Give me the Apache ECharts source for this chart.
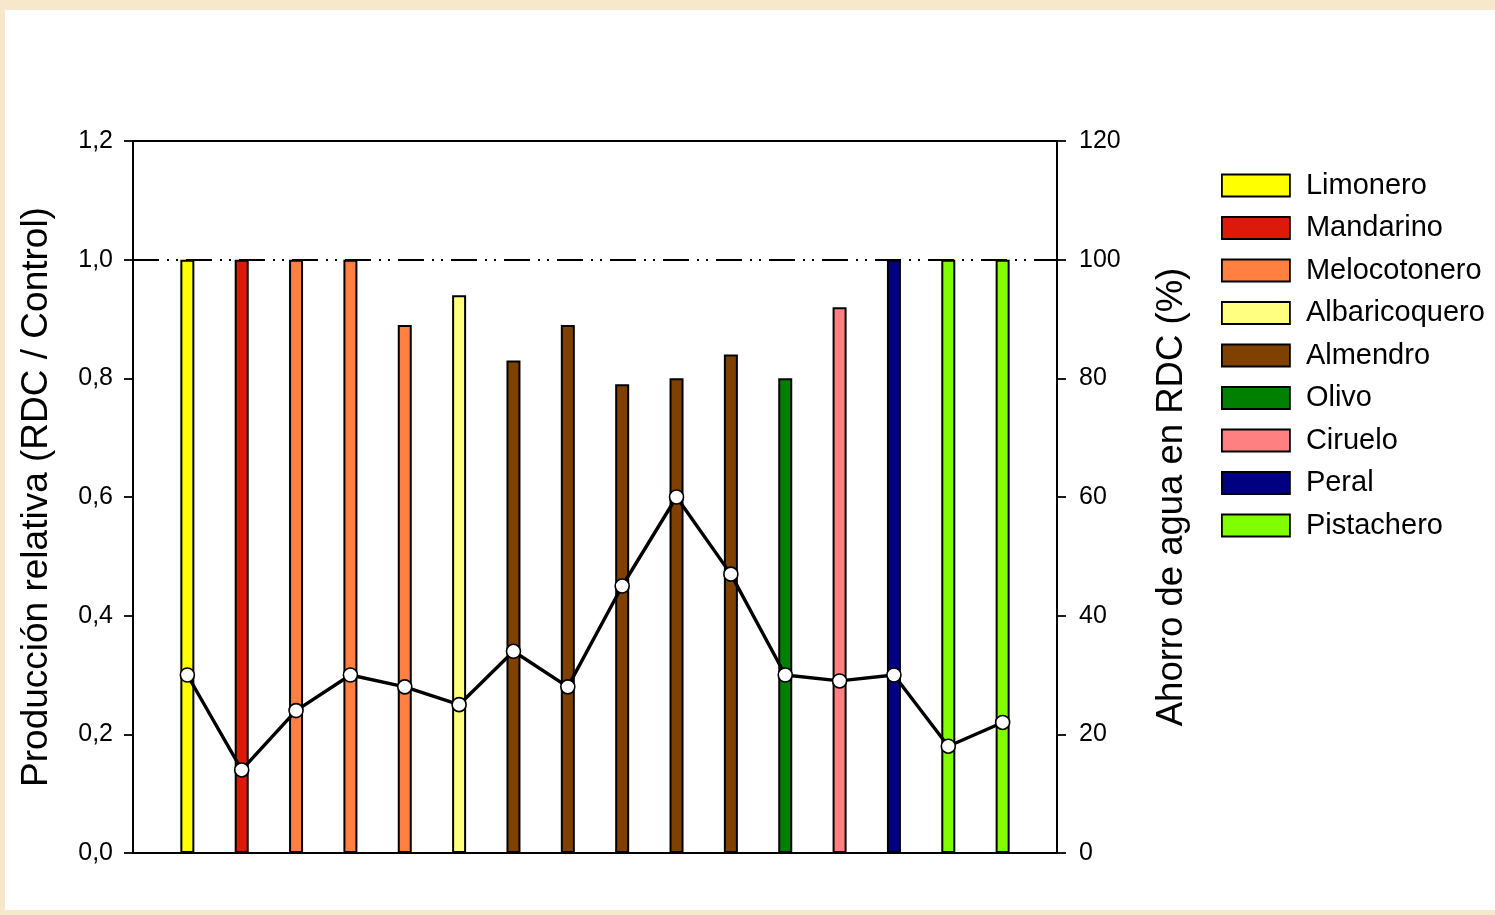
<!DOCTYPE html>
<html>
<head>
<meta charset="utf-8">
<script src="https://cdn.jsdelivr.net/npm/echarts@6/dist/echarts.min.js"></script>
<style>
  html, body { margin: 0; padding: 0; width: 1495px; height: 915px; background: #F7E8CB; overflow: hidden; }
  #chart { position: absolute; left: 5px; top: 10px; width: 1490px; height: 900px; background: #ffffff; }
</style>
</head>
<body>
<div id="chart"></div>
<script>
// ---- data ----
const species = ['Limonero', 'Mandarino', 'Melocotonero', 'Albaricoquero', 'Almendro', 'Olivo', 'Ciruelo', 'Peral', 'Pistachero'];
const speciesColors = ['#FFFF00', '#DD1A0A', '#FF8040', '#FFFF80', '#804000', '#008000', '#FF8080', '#000080', '#80FF00'];
const trialSpecies = ['Limonero', 'Mandarino', 'Melocotonero', 'Melocotonero', 'Melocotonero', 'Albaricoquero',
  'Almendro', 'Almendro', 'Almendro', 'Almendro', 'Almendro', 'Olivo', 'Ciruelo', 'Peral', 'Pistachero', 'Pistachero'];
const relativeProduction = [1.0, 1.0, 1.0, 1.0, 0.89, 0.94, 0.83, 0.89, 0.79, 0.80, 0.84, 0.80, 0.92, 1.0, 1.0, 1.0];
const waterSaving = [30, 14, 24, 30, 28, 25, 34, 28, 45, 60, 47, 30, 29, 30, 18, 22];
const leftTicks = [0, 0.2, 0.4, 0.6, 0.8, 1.0, 1.2];
const rightTicks = [0, 20, 40, 60, 80, 100, 120];
const controlLevel = 1.0;

const FONT = 'Liberation Sans, Arial, Helvetica, sans-serif';

const barSeries = species.map((name, si) => {
  const data = [];
  trialSpecies.forEach((s, i) => { if (s === name) data.push([i + 1, relativeProduction[i]]); });
  const ser = {
    name: name,
    type: 'bar',
    xAxisIndex: 0,
    yAxisIndex: 0,
    barWidth: 14,
    barGap: '-100%',
    data: data,
    itemStyle: { color: speciesColors[si], borderColor: '#000', borderWidth: 2 },
    z: 2
  };
  if (si === 0) {
    ser.markLine = {
      silent: true,
      symbol: ['none', 'none'],
      label: { show: false },
      lineStyle: { color: '#000', width: 1.8, type: [26, 8, 2, 7, 2, 8] },
      data: [{ yAxis: controlLevel }],
      z: 5
    };
  }
  return ser;
});

const lineSeries = {
  name: 'Ahorro',
  type: 'line',
  xAxisIndex: 0,
  yAxisIndex: 1,
  data: waterSaving.map((v, i) => [i + 1, v]),
  symbol: 'circle',
  symbolSize: 14,
  itemStyle: { color: '#ffffff', borderColor: '#000', borderWidth: 1.6 },
  lineStyle: { color: '#000', width: 3.4 },
  z: 10
};

const chart = echarts.init(document.getElementById('chart'));
chart.setOption({
  animation: false,
  backgroundColor: '#ffffff',
  textStyle: { fontFamily: FONT, color: '#000' },
  grid: { left: 128, right: 438, top: 131, bottom: 57, show: true, borderColor: '#000', borderWidth: 1.8, backgroundColor: 'transparent' },
  legend: {
    data: species,
    orient: 'vertical',
    left: 1211,
    top: 156,
    icon: 'rect',
    itemWidth: 68,
    itemHeight: 22,
    itemGap: 13.5,
    itemStyle: { borderColor: '#000', borderWidth: 1.8 },
    textStyle: { fontFamily: FONT, fontSize: 29, color: '#000', padding: [0, 0, 0, 11] },
    selectedMode: false
  },
  xAxis: [{
    type: 'value',
    min: 0,
    max: trialSpecies.length + 1,
    axisLine: { show: true, lineStyle: { color: '#000', width: 1.8 } },
    axisTick: { show: false },
    axisLabel: { show: false },
    splitLine: { show: false }
  }],
  yAxis: [{
    type: 'value',
    position: 'left',
    min: leftTicks[0],
    max: leftTicks[leftTicks.length - 1],
    interval: 0.2,
    name: 'Producción relativa (RDC / Control)',
    nameLocation: 'middle',
    nameRotate: 90,
    nameGap: 78,
    nameTextStyle: { fontFamily: FONT, fontSize: 37, color: '#000' },
    axisLine: { show: true, lineStyle: { color: '#000', width: 1.8 } },
    axisTick: { show: true, inside: false, length: 9, lineStyle: { color: '#000', width: 1.8 } },
    axisLabel: { fontFamily: FONT, fontSize: 25, color: '#000', margin: 20, formatter: v => v.toFixed(1).replace('.', ',') },
    splitLine: { show: false }
  }, {
    type: 'value',
    position: 'right',
    min: rightTicks[0],
    max: rightTicks[rightTicks.length - 1],
    interval: 20,
    name: 'Ahorro de agua en RDC (%)',
    nameLocation: 'middle',
    nameRotate: 90,
    nameGap: 96,
    nameTextStyle: { fontFamily: FONT, fontSize: 36.5, color: '#000' },
    axisLine: { show: true, lineStyle: { color: '#000', width: 1.8 } },
    axisTick: { show: true, inside: false, length: 9, lineStyle: { color: '#000', width: 1.8 } },
    axisLabel: { fontFamily: FONT, fontSize: 25, color: '#000', margin: 22 },
    splitLine: { show: false }
  }],
  series: barSeries.concat([lineSeries])
});
</script>
</body>
</html>
